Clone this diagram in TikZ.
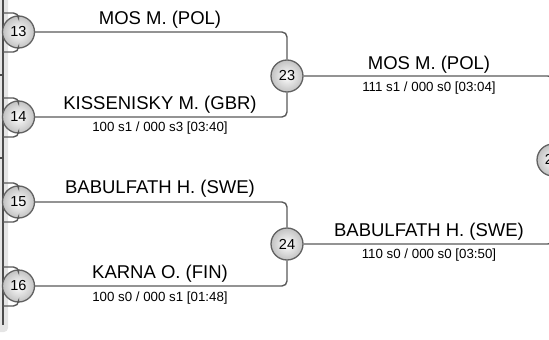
\documentclass[tikz,border=0pt]{standalone}
\usepackage{fontspec}
\setmainfont{Liberation Sans}
\usetikzlibrary{positioning}

\begin{document}
\begin{tikzpicture}[
    x=1pt, y=-1pt,
    seed/.style={circle, draw=black!62, line width=1.3pt, inner color=white, outer color=black!24, minimum size=32pt, inner sep=0pt, font=\fontsize{14.5}{15}\selectfont},
    wire/.style={draw=black!65, line width=1.4pt, rounded corners=5pt},
    player/.style={font=\fontsize{18.5}{20}\selectfont, anchor=base, inner sep=0pt},
    score/.style={font=\fontsize{13.3}{14}\selectfont, anchor=base, inner sep=0pt},
]
\clip (0,0) rectangle (549,340);

% --- left panel ---
\fill[black!10, rounded corners=4pt] (-5,-5) rectangle (8,332);
\draw[black!70, line width=1.2pt] (3,-2) -- (3,325);
\draw[black!70, line width=1.2pt] (0,75) -- (2,75);
\draw[black!70, line width=1.2pt] (0,158) -- (2,158);

% --- round 1 ---
\foreach \n/\y in {13/32,14/117,15/202,16/286} {
  \node[seed] (c\n) at (18.5,\y) {\n};
  \coordinate (s\n a) at (3,\y-19);
  \coordinate (s\n b) at (3,\y+20);
  \draw[wire] (s\n a) -| (c\n);
  \draw[wire] (s\n b) -| (c\n);
}

% --- round 2 ---
\node[seed] (c23) at (287,76) {23};
\node[seed] (c24) at (287,244) {24};
\node[seed] (c25) at (553,160) {25};

\draw[wire] (c13) -| (c23);
\draw[wire] (c14) -| (c23);
\draw[wire] (c15) -| (c24);
\draw[wire] (c16) -| (c24);
\draw[wire] (c23) -| (c25);
\draw[wire] (c24) -| (c25);

% names and results
\node[player] (p13) at (160,24) {MOS M. (POL)};
\node[player] (p14) at (160,109.5) {KISSENISKY M. (GBR)};
\node[score] (r14) at (160,131.5) {100 s1 / 000 s3 [03:40]};
\node[player] (p15) at (160,193.5) {BABULFATH H. (SWE)};
\node[player] (p16) at (160,278) {KARNA O. (FIN)};
\node[score] (r16) at (160,301.5) {100 s0 / 000 s1 [01:48]};

\node[player] (p23) at (429,69.5) {MOS M. (POL)};
\node[score] (r23) at (429,91.5) {111 s1 / 000 s0 [03:04]};
\node[player] (p24) at (429,236.5) {BABULFATH H. (SWE)};
\node[score] (r24) at (429,258.5) {110 s0 / 000 s0 [03:50]};

\end{tikzpicture}
\end{document}
